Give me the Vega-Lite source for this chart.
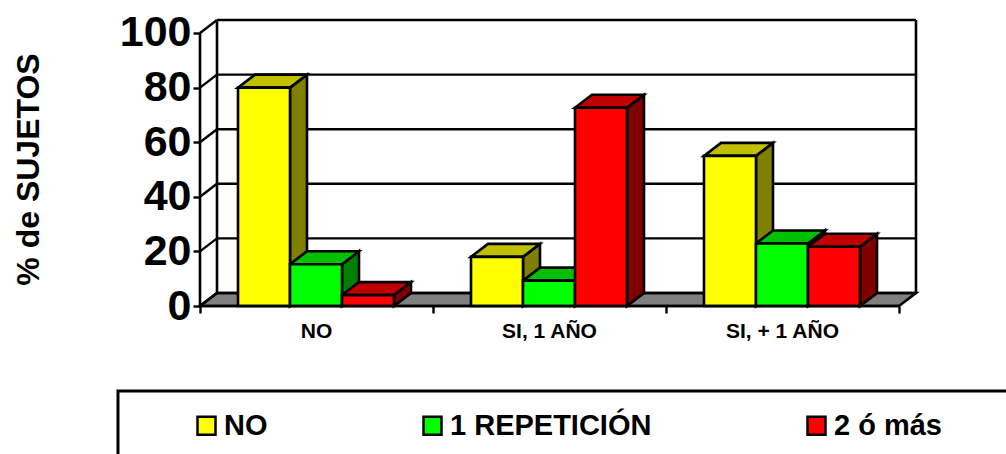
{"$schema":"https://vega.github.io/schema/vega-lite/v6.json","width":716,"height":286,"autosize":{"type":"none"},"padding":{"left":200,"top":20,"right":90,"bottom":148},"background":"white","config":{"view":{"stroke":null},"font":"Liberation Sans"},"datasets":{"bars":[{"cat":"NO","series":"NO","value":80},{"cat":"SI, 1 AÑO","series":"NO","value":18},{"cat":"SI, + 1 AÑO","series":"NO","value":55},{"cat":"NO","series":"1 REPETICIÓN","value":15.3},{"cat":"SI, 1 AÑO","series":"1 REPETICIÓN","value":9.3},{"cat":"SI, + 1 AÑO","series":"1 REPETICIÓN","value":22.9},{"cat":"NO","series":"2 ó más","value":4},{"cat":"SI, 1 AÑO","series":"2 ó más","value":72.6},{"cat":"SI, + 1 AÑO","series":"2 ó más","value":21.7}],"ticks":[{"v":0},{"v":20},{"v":40},{"v":60},{"v":80},{"v":100}],"cats":[{"cat":"NO","pos":0.5},{"cat":"SI, 1 AÑO","pos":1.5},{"cat":"SI, + 1 AÑO","pos":2.5}],"frame":[{"x":-0.352,"x2":3.6,"y":-31.1,"y2":-60}],"axes":[{"pos":0},{"pos":1},{"pos":2},{"pos":3}]},"resolve":{"scale":{"color":"independent"}},"layer":[{"data":{"name":"frame"},"mark":{"type":"rect","fill":"white","stroke":"black","strokeWidth":3},"encoding":{"x":{"field":"x","type":"quantitative","scale":{"domain":[0,3.073],"nice":false,"zero":false},"axis":{"values":[0,1,2,3],"domain":false,"grid":false,"labels":false,"title":null,"ticks":true,"tickSize":7,"tickWidth":2.4,"tickColor":"black"}},"x2":{"field":"x2"},"y":{"field":"y","type":"quantitative","scale":{"domain":[0,104.76],"nice":false,"zero":false},"axis":{"values":[0,20,40,60,80,100],"domain":false,"grid":false,"title":"% de SUJETOS","titleFont":"Liberation Sans","titleFontSize":32,"titleFontWeight":"bold","titleColor":"black","titleX":-172,"titleY":149,"titleAngle":-90,"titleAlign":"center","titleBaseline":"middle","labelFont":"Liberation Sans","labelFontSize":43,"labelFontWeight":"bold","labelColor":"black","labelPadding":2,"tickSize":7,"tickWidth":2.4,"tickColor":"black"}},"y2":{"field":"y2"}}},{"data":{"name":"axes"},"transform":[{"filter":"datum.pos==0"},{"calculate":"[0,1]","as":"k"},{"flatten":["k"]},{"calculate":"datum.k*0.07296","as":"a"},{"calculate":"3+datum.k*0.07296","as":"b"},{"calculate":"datum.k*4.762","as":"yy"}],"mark":{"type":"area","orient":"horizontal","fill":"#808080","stroke":"black","strokeWidth":2.6},"encoding":{"y":{"field":"yy","type":"quantitative"},"x":{"field":"a","type":"quantitative"},"x2":{"field":"b"}}},{"data":{"name":"ticks"},"transform":[{"calculate":"datum.v+4.762","as":"w"},{"calculate":"0.07296","as":"a"},{"calculate":"3.07296","as":"b"}],"mark":{"type":"rule","stroke":"black","strokeWidth":2.4},"encoding":{"x":{"field":"a","type":"quantitative"},"x2":{"field":"b"},"y":{"field":"w","type":"quantitative"}}},{"data":{"name":"ticks"},"transform":[{"calculate":"datum.v+4.762","as":"w"},{"calculate":"0","as":"a"},{"calculate":"0.07296","as":"b"}],"mark":{"type":"rule","stroke":"black","strokeWidth":2.4},"encoding":{"x":{"field":"a","type":"quantitative"},"x2":{"field":"b"},"y":{"field":"v","type":"quantitative"},"y2":{"field":"w"}}},{"data":{"name":"axes"},"transform":[{"filter":"datum.pos==0||datum.pos==3"},{"calculate":"datum.pos+0.07296","as":"a"},{"calculate":"4.762","as":"lo"},{"calculate":"104.762","as":"hi"}],"mark":{"type":"rule","stroke":"black","strokeWidth":2.6},"encoding":{"x":{"field":"a","type":"quantitative"},"y":{"field":"lo","type":"quantitative"},"y2":{"field":"hi"}}},{"data":{"name":"axes"},"transform":[{"filter":"datum.pos==0"},{"calculate":"0","as":"lo"},{"calculate":"100","as":"hi"}],"mark":{"type":"rule","stroke":"black","strokeWidth":2.6},"encoding":{"x":{"field":"pos","type":"quantitative"},"y":{"field":"lo","type":"quantitative"},"y2":{"field":"hi"}}},{"data":{"name":"bars"},"transform":[{"calculate":"indexof(['NO','SI, 1 AÑO','SI, + 1 AÑO'],datum.cat)+(38+52*indexof(['NO','1 REPETICIÓN','2 ó más'],datum.series))/233","as":"xl"},{"calculate":"datum.xl+52/233","as":"xr"},{"calculate":"[0,1]","as":"k"},{"flatten":["k"]},{"calculate":"datum.xr+datum.k*0.07296","as":"sx"},{"calculate":"datum.value+datum.k*4.762","as":"st"},{"calculate":"datum.k*4.762","as":"sb"},{"calculate":"datum.cat+datum.series","as":"key"}],"mark":{"type":"area","stroke":"black","strokeWidth":2.6},"encoding":{"x":{"field":"sx","type":"quantitative"},"y":{"field":"st","type":"quantitative","stack":null},"y2":{"field":"sb"},"detail":{"field":"key"},"color":{"field":"series","type":"nominal","legend":null,"scale":{"domain":["NO","1 REPETICIÓN","2 ó más"],"range":["#808000","#008000","#800000"]}}}},{"data":{"name":"bars"},"transform":[{"calculate":"indexof(['NO','SI, 1 AÑO','SI, + 1 AÑO'],datum.cat)+(38+52*indexof(['NO','1 REPETICIÓN','2 ó más'],datum.series))/233","as":"xl"},{"calculate":"datum.xl+52/233","as":"xr"},{"calculate":"[0,1]","as":"k"},{"flatten":["k"]},{"calculate":"datum.xl+datum.k*0.07296","as":"ta"},{"calculate":"datum.xr+datum.k*0.07296","as":"tb"},{"calculate":"datum.value+datum.k*4.762","as":"ty"},{"calculate":"datum.cat+datum.series","as":"key"}],"mark":{"type":"area","orient":"horizontal","stroke":"black","strokeWidth":2.6},"encoding":{"y":{"field":"ty","type":"quantitative"},"x":{"field":"ta","type":"quantitative","stack":null},"x2":{"field":"tb"},"detail":{"field":"key"},"color":{"field":"series","type":"nominal","legend":null,"scale":{"domain":["NO","1 REPETICIÓN","2 ó más"],"range":["#C0C000","#00C000","#C00000"]}}}},{"data":{"name":"bars"},"transform":[{"calculate":"indexof(['NO','SI, 1 AÑO','SI, + 1 AÑO'],datum.cat)+(38+52*indexof(['NO','1 REPETICIÓN','2 ó más'],datum.series))/233","as":"xl"},{"calculate":"datum.xl+52/233","as":"xr"},{"calculate":"0","as":"base"}],"mark":{"type":"rect","stroke":"black","strokeWidth":2.6},"encoding":{"x":{"field":"xl","type":"quantitative"},"x2":{"field":"xr"},"y":{"field":"value","type":"quantitative"},"y2":{"field":"base"},"color":{"field":"series","type":"nominal","title":null,"scale":{"domain":["NO","1 REPETICIÓN","2 ó más"],"range":["#FFFF00","#00FF00","#FF0000"]},"legend":{"orient":"none","legendX":-8,"legendY":391,"direction":"horizontal","columns":3,"columnPadding":150,"gridAlign":"each","symbolType":"square","symbolSize":324,"symbolStrokeColor":"black","symbolStrokeWidth":2.5,"labelFont":"Liberation Sans","labelFontSize":29,"labelFontWeight":"bold","labelColor":"black","labelOffset":3,"labelLimit":400,"padding":0}}}},{"data":{"name":"axes"},"transform":[{"filter":"datum.pos==0"},{"calculate":"0","as":"base"}],"mark":{"type":"rule","stroke":"black","strokeWidth":2.6},"encoding":{"x":{"field":"base","type":"quantitative"},"x2":{"datum":3},"y":{"field":"base","type":"quantitative"}}},{"data":{"name":"cats"},"transform":[{"calculate":"0","as":"base"}],"mark":{"type":"text","font":"Liberation Sans","fontSize":21,"fontWeight":"bold","color":"black","dy":26,"align":"center","baseline":"middle"},"encoding":{"x":{"field":"pos","type":"quantitative"},"y":{"field":"base","type":"quantitative"},"text":{"field":"cat"}}}]}
